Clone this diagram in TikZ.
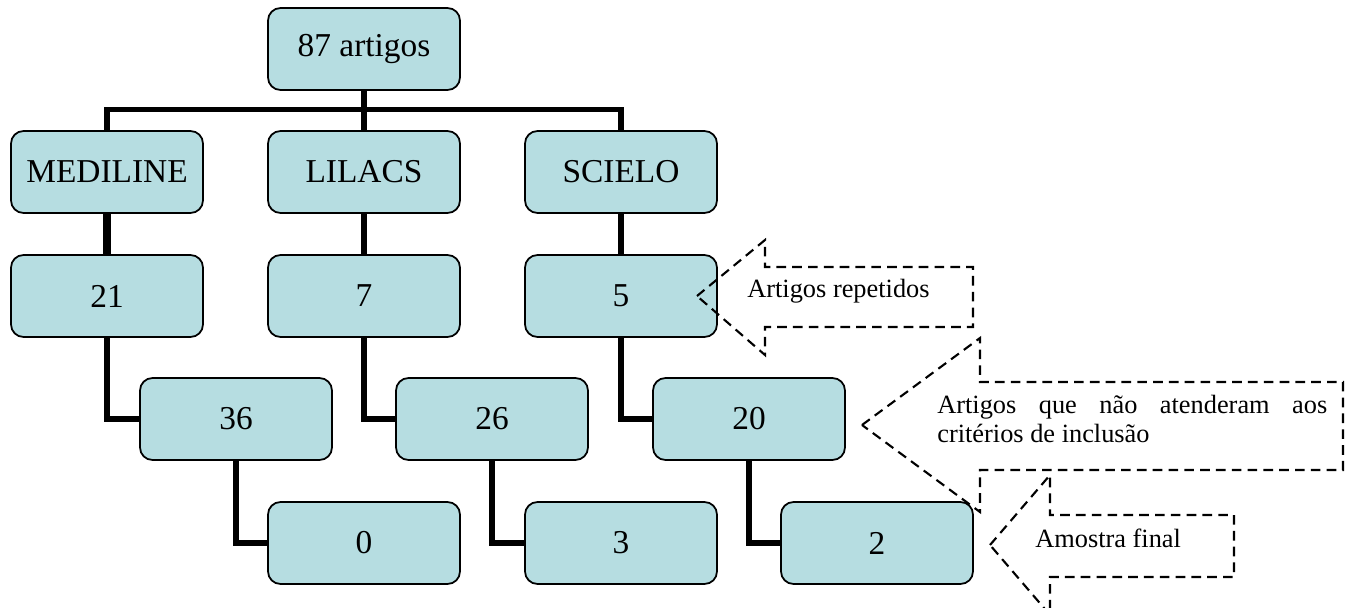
\documentclass[tikz,border=0pt]{standalone}
\usepackage{fontspec}
\setmainfont{Liberation Serif}
\definecolor{corcaixa}{RGB}{182,221,225}

\begin{document}
\begin{tikzpicture}[
        x=0.02cm, y=-0.02cm,
        caixa/.style={draw, fill=corcaixa, rounded corners=0.25cm, line width=1pt,
            minimum width=3.84cm, minimum height=1.64cm, font=\fontsize{19}{22}\selectfont},
        ligacao/.style={line width=2.9pt},
        seta/.style={line width=1.2pt, dash pattern=on 5.5pt off 3.5pt},
        nota/.style={inner sep=0pt, anchor=west, font=\fontsize{15}{16.5}\selectfont}
    ]
        \useasboundingbox (0,0) rectangle (1346,608);

        % Caixas
        \node[caixa] (root) at (364,49) {87 artigos};
        \node[caixa] (med) at (107,172) {MEDILINE};
        \node[caixa] (lil) at (364,172) {LILACS};
        \node[caixa] (sci) at (621,172) {SCIELO};
        \node[caixa] (med1) at (107,296) {21};
        \node[caixa] (lil1) at (364,296) {7};
        \node[caixa] (sci1) at (621,296) {5};
        \node[caixa] (med2) at (236,419) {36};
        \node[caixa] (lil2) at (492,419) {26};
        \node[caixa] (sci2) at (749,419) {20};
        \node[caixa] (med3) at (364,543) {0};
        \node[caixa] (lil3) at (621,543) {3};
        \node[caixa] (sci3) at (877,543) {2};

        % Ligacoes
        \draw[ligacao] (root) -- (lil);
        \draw[ligacao] (med.north) -- ++(0,-21) -| (sci.north);
        \draw[ligacao, line width=4.2pt] (med) -- (med1);
        \draw[ligacao] (lil) -- (lil1);
        \draw[ligacao] (sci) -- (sci1);
        \draw[ligacao] (med1.south) |- (med2.west);
        \draw[ligacao] (lil1.south) |- (lil2.west);
        \draw[ligacao] (sci1.south) |- (sci2.west);
        \draw[ligacao] (med2.south) |- (med3.west);
        \draw[ligacao] (lil2.south) |- (lil3.west);
        \draw[ligacao] (sci2.south) |- (sci3.west);

        % Setas tracejadas
        \draw[seta] (697,296) -- (765,240) -- (765,267) -- (973,267) -- (973,327)
            -- (765,327) -- (765,355) -- cycle;
        \draw[seta] (862,425) -- (980,338) -- (980,382) -- (1343,382) -- (1343,470)
            -- (980,470) -- (980,512) -- cycle;
        \draw[seta] (990,545) -- (1050,475) -- (1050,515) -- (1234,515) -- (1234,577)
            -- (1050,577) -- (1050,615) -- cycle;

        \node[nota] (rep) at (747,291) {Artigos repetidos};
        \node[nota, text width=7.8cm, align=justify] (crit) at (937,419)
            {Artigos que não atenderam aos critérios de inclusão};
        \node[nota] (final) at (1035,538) {Amostra final};
    \end{tikzpicture}
\end{document}
